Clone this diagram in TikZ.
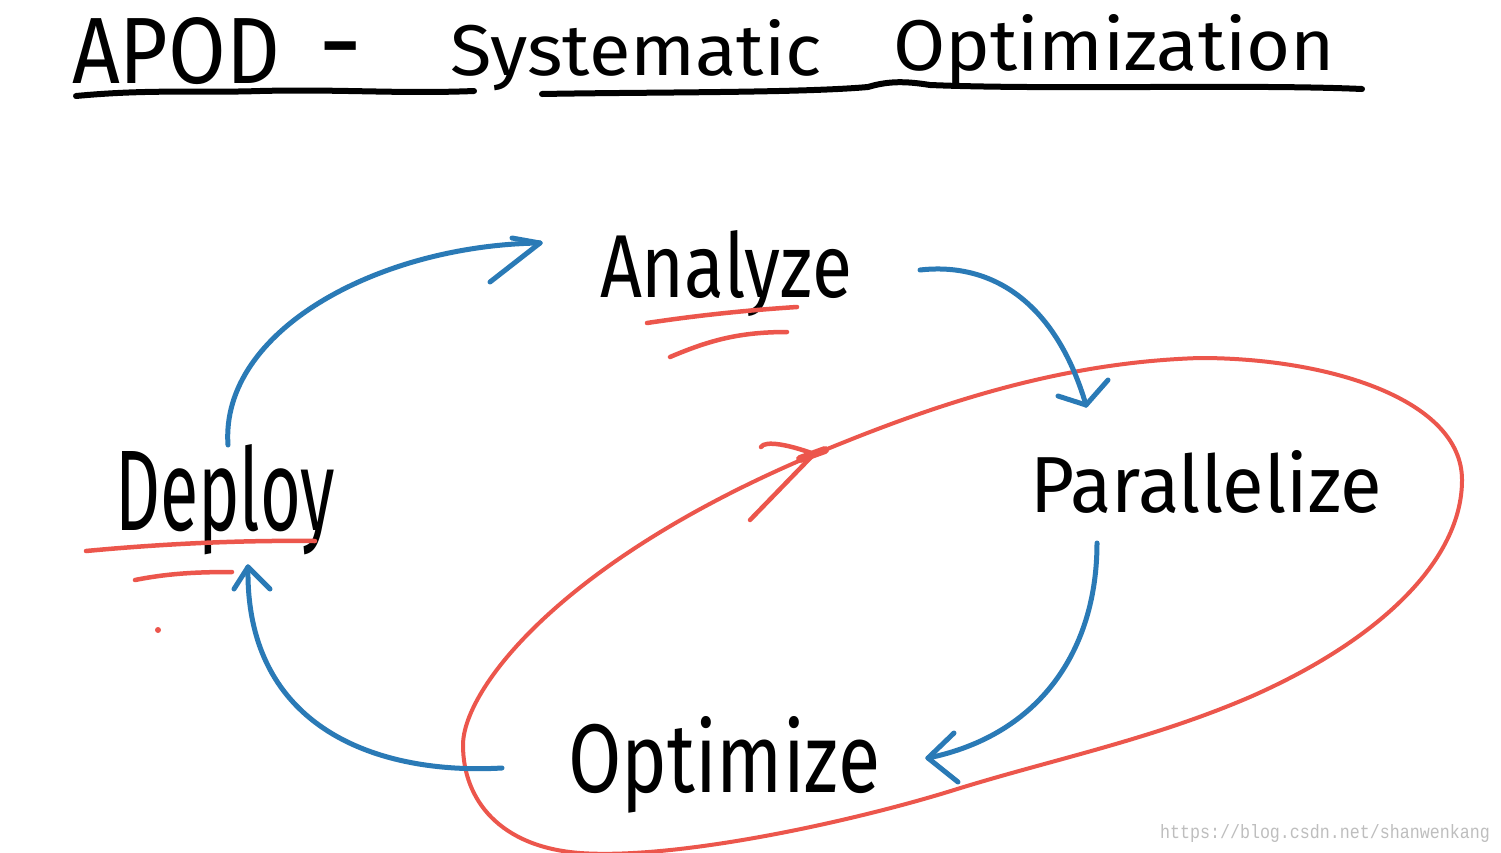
\documentclass[tikz,border=0pt]{standalone}
\usepackage{fontspec}
\setmainfont{Fira Sans}
\newfontfamily\wmfont{Liberation Mono}
\usepackage{graphicx}
\definecolor{penblue}{RGB}{42,122,182}
\definecolor{penred}{RGB}{236,86,76}
\definecolor{wmgray}{RGB}{190,190,190}
\newcommand{\handword}[3]{\resizebox{#1pt}{#2pt}{#3}}
\tikzset{
  word/.style={anchor=base west, inner sep=0pt, outer sep=0pt, text=black},
  blueflow/.style={draw=penblue, line width=5pt, line cap=round, line join=round},
  redpen/.style={draw=penred, line width=4.5pt, line cap=round, line join=round},
  inkline/.style={draw=black, line width=6pt, line cap=round, line join=round},
}
\begin{document}
\begin{tikzpicture}[x=1pt,y=-1pt]
\useasboundingbox[fill=white] (0,0) rectangle (1501,852);

% title
\node[word] (tapod) at (72,83) {\handword{208}{66}{APOD}};
\node[anchor=base, inner sep=0pt] (tdash) at (341,80) {\fontsize{110}{110}\selectfont -};
\node[word] (tsys) at (450,75) {\handword{372}{56}{Systematic}};
\node[word] (topt) at (893,70) {\handword{442}{56}{Optimization}};
\draw[inkline] (76,96) .. controls (150,89) and (200,93) .. (260,91) .. controls (340,89) and (400,94) .. (474,91);
\draw[inkline] (542,94) .. controls (650,92) and (800,93) .. (868,87) .. controls (888,81) and (905,81) .. (930,85) .. controls (1050,90) and (1250,84) .. (1362,89);

% words
\node[word] (analyze) at (600,297) {\handword{252}{67}{Analyze}};
\node[word] (deploy) at (115,530) {\handword{220}{86}{Deploy}};
\node[word] (parallelize) at (1030,512) {\handword{352}{62}{Parallelize}};
\node[word] (optimize) at (568,792) {\handword{312}{76}{Optimize}};

% red underlines
\draw[redpen] (647,323) .. controls (700,315) and (750,310) .. (797,307);
\draw[redpen] (670,357) .. controls (710,340) and (740,332) .. (787,332);
\draw[redpen] (86,551) .. controls (150,545) and (230,540) .. (315,541);
\draw[redpen] (135,580) .. controls (170,573) and (200,572) .. (232,572);
\fill[penred] (158,630) circle (3pt);

% red loop
\draw[redpen, line width=4pt]
  (1200,358) .. controls (1330,358) and (1462,400) .. (1462,480)
  .. controls (1462,560) and (1380,640) .. (1250,697)
  .. controls (1150,740) and (1050,760) .. (954,790)
  .. controls (858,820) and (680,860) .. (580,853)
  .. controls (500,847) and (463,800) .. (463,745)
  .. controls (463,690) and (560,560) .. (820,452)
  .. controls (950,398) and (1070,362) .. (1200,358) -- cycle;
\coordinate (rtip) at (814,454);
\draw[redpen] (rtip) -- (750,520);
\draw[redpen] (761,447) .. controls (765,440) and (790,445) .. (rtip);
\draw[penred, line width=8pt, line cap=round] (800,459) -- (825,450);

% blue arrows
\coordinate (dA) at (228,445);
\coordinate (aA) at (540,243);
\draw[blueflow] (dA) .. controls (220,330) and (380,245) .. (aA);
\draw[blueflow] (aA) -- (490,282);
\draw[blueflow] (aA) -- (512,238);

\coordinate (aP) at (920,270);
\coordinate (pA) at (1086,405);
\draw[blueflow] (aP) .. controls (990,262) and (1055,300) .. (pA);
\draw[blueflow] (pA) -- (1058,396);
\draw[blueflow] (pA) -- (1108,380);

\coordinate (pO) at (1097,543);
\coordinate (oP) at (928,758);
\draw[blueflow] (pO) .. controls (1097,650) and (1040,735) .. (oP);
\draw[blueflow] (oP) -- (954,733);
\draw[blueflow] (oP) -- (958,782);

\coordinate (oD) at (502,768);
\coordinate (dO) at (248,567);
\draw[blueflow] (oD) .. controls (380,775) and (245,730) .. (dO);
\draw[blueflow] (dO) -- (234,589);
\draw[blueflow] (dO) -- (270,589);

% watermark
\node[word, text=wmgray] (wm) at (1160,838) {\handword{330}{14}{\wmfont https://blog.csdn.net/shanwenkang}};
\end{tikzpicture}
\end{document}
